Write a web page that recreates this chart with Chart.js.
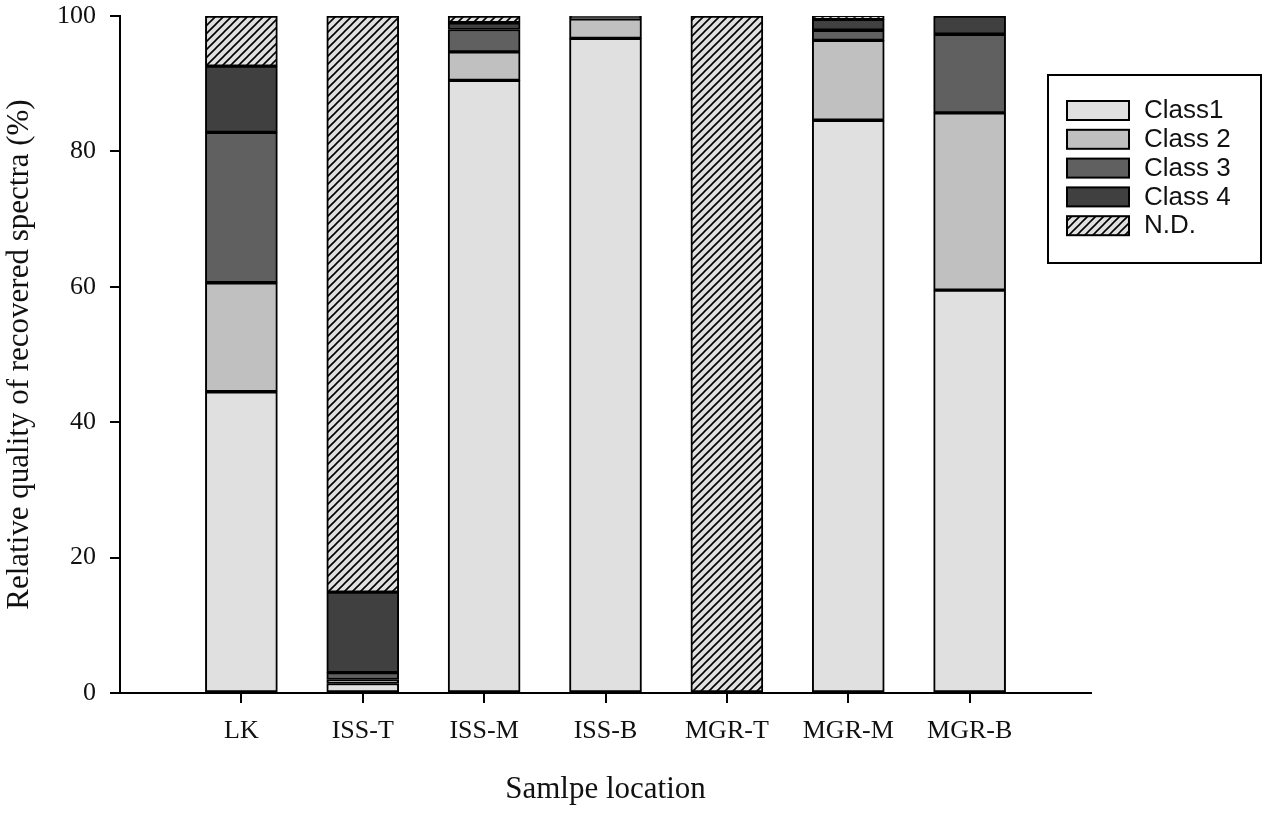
<!DOCTYPE html>
<html>
<head>
<meta charset="utf-8">
<script src="https://cdn.jsdelivr.net/npm/chart.js@4/dist/chart.umd.min.js"></script>
<style>
    body { margin: 0; background: #fff; }
    #wrap { width: 1267px; height: 813px; }
</style>
</head>
<body>
<div id="wrap"><canvas id="grafico" width="1267" height="813"></canvas></div>
<script>
const locais = ['LK', 'ISS-T', 'ISS-M', 'ISS-B', 'MGR-T', 'MGR-M', 'MGR-B'];
const class1 = [44.5, 1.4, 90.5, 96.7, 0, 84.6, 59.5];
const class2 = [16.1, 0.6, 4.2, 2.9, 0, 11.8, 26.2];
const class3 = [22.2, 1.0, 3.3, 0.1, 0, 1.5, 11.6];
const class4 = [9.8, 11.9, 1.0, 0.3, 0, 1.6, 2.7];
const naoDet = [7.4, 85.1, 1.0, 0, 100, 0.5, 0];
const yTicks = [0, 20, 40, 60, 80, 100];

const ctx = document.getElementById('grafico').getContext('2d');

function criarHachura() {
    const c = document.createElement('canvas');
    c.width = 8;
    c.height = 8;
    const g = c.getContext('2d');
    g.fillStyle = '#e0e0e0';
    g.fillRect(0, 0, 8, 8);
    g.strokeStyle = '#000';
    g.lineWidth = 1.6;
    g.beginPath();
    g.moveTo(0, 8); g.lineTo(8, 0);
    g.moveTo(-2, 2); g.lineTo(2, -2);
    g.moveTo(6, 10); g.lineTo(10, 6);
    g.stroke();
    return ctx.createPattern(c, 'repeat');
}

const hachura = criarHachura();

function serie(label, valores, cor) {
    return {
        label: label,
        data: valores.map((v, i) => ({ x: i + 1, y: v })),
        backgroundColor: cor,
        borderColor: '#000',
        borderWidth: 2,
        borderSkipped: false,
        barThickness: 72
    };
}

// legenda desenhada a parte, caixa fora da area do grafico
const legendaBox = {
    id: 'legendaBox',
    afterDraw(chart) {
        const c = chart.ctx;
        c.save();
        c.strokeStyle = '#000';
        c.lineWidth = 2;
        c.strokeRect(1048, 75, 213, 188);
        c.font = '26px "Liberation Sans", Arial, sans-serif';
        c.textBaseline = 'middle';
        chart.data.datasets.forEach((ds, i) => {
            const y = 101 + i * 28.8;
            c.fillStyle = ds.backgroundColor;
            c.fillRect(1067, y, 62, 19);
            c.lineWidth = 2;
            c.strokeRect(1067, y, 62, 19);
            c.fillStyle = '#111';
            c.fillText(ds.label, 1144, y + 10);
        });
        c.restore();
    }
};

new Chart(ctx, {
    type: 'bar',
    data: {
        datasets: [
            serie('Class1', class1, '#e0e0e0'),
            serie('Class 2', class2, '#c0c0c0'),
            serie('Class 3', class3, '#606060'),
            serie('Class 4', class4, '#404040'),
            serie('N.D.', naoDet, hachura)
        ]
    },
    options: {
        responsive: false,
        animation: false,
        devicePixelRatio: 1,
        layout: { padding: { top: 16, right: 176, left: 0, bottom: 0 } },
        plugins: {
            legend: { display: false },
            tooltip: { enabled: false }
        },
        scales: {
            x: {
                type: 'linear',
                stacked: true,
                offset: false,
                min: 0,
                max: 8,
                afterBuildTicks: scale => {
                    scale.ticks = locais.map((l, i) => ({ value: i + 1 }));
                },
                afterFit: scale => {
                    scale.height = 120;
                    scale.paddingLeft = 0;
                    scale.paddingRight = 0;
                },
                grid: { offset: false, drawOnChartArea: false, drawTicks: true, tickLength: 10, color: '#000', lineWidth: 2 },
                border: { display: true, color: '#000', width: 2 },
                ticks: {
                    autoSkip: false,
                    maxRotation: 0,
                    padding: 13,
                    color: '#111',
                    font: { family: '"Liberation Serif", "Times New Roman", serif', size: 26 },
                    callback: v => locais[v - 1]
                },
                title: {
                    display: true,
                    text: 'Samlpe location',
                    color: '#111',
                    padding: { top: 0, bottom: 5 },
                    font: { family: '"Liberation Serif", "Times New Roman", serif', size: 31 }
                }
            },
            y: {
                stacked: true,
                min: 0,
                max: 100,
                afterBuildTicks: scale => {
                    scale.ticks = yTicks.map(v => ({ value: v }));
                },
                afterFit: scale => {
                    scale.width = 120;
                    scale.paddingTop = 0;
                    scale.paddingBottom = 0;
                },
                grid: { drawOnChartArea: false, drawTicks: true, tickLength: 10, color: '#000', lineWidth: 2 },
                border: { display: true, color: '#000', width: 2 },
                ticks: {
                    padding: 14,
                    color: '#111',
                    font: { family: '"Liberation Serif", "Times New Roman", serif', size: 26 }
                },
                title: {
                    display: true,
                    text: 'Relative quality of recovered spectra (%)',
                    color: '#111',
                    padding: { top: 1, bottom: 0 },
                    font: { family: '"Liberation Serif", "Times New Roman", serif', size: 31 }
                }
            }
        }
    },
    plugins: [legendaBox]
});
</script>
</body>
</html>
